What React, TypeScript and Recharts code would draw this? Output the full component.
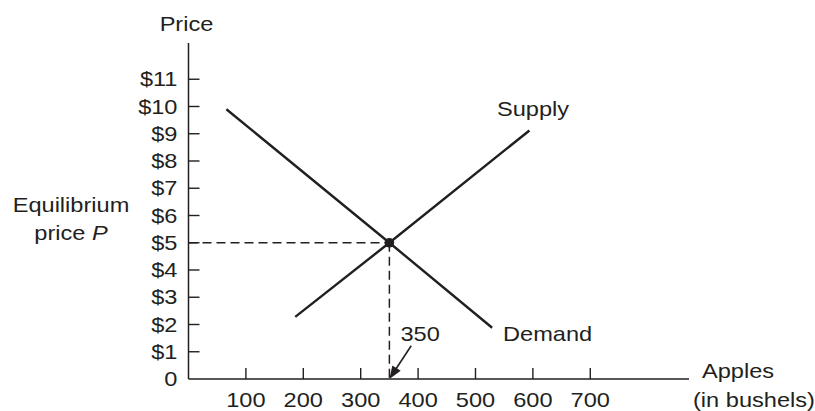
import React from "react";
import { ComposedChart, Line, XAxis, YAxis, ReferenceLine, ReferenceDot } from "recharts";

// axis ticks
const priceTicks = [0, 1, 2, 3, 4, 5, 6, 7, 8, 9, 10, 11];
const priceLabels = ["0", "$1", "$2", "$3", "$4", "$5", "$6", "$7", "$8", "$9", "$10", "$11"];
const quantityTicks = [100, 200, 300, 400, 500, 600, 700];

// curves (bushels, $)
const demandQty = [66, 350, 529];
const demandPrice = [9.9, 5, 1.88];
const supplyQty = [186, 350, 594];
const supplyPrice = [2.28, 5, 9.12];

const eqQty = 350;
const eqPrice = 5;
// arrow pointing at 350 on the axis
const arrowFrom = { x: 388, y: 1.22 };
const arrowTo = { x: 350, y: 0 };

const demand = demandQty.map((q, i) => ({ x: q, y: demandPrice[i] }));
const supply = supplyQty.map((q, i) => ({ x: q, y: supplyPrice[i] }));

const INK = "#231f20";
const FONT = "'Liberation Sans', Arial, Helvetica, sans-serif";
const AXIS_X = 188.5;
const AXIS_Y = 379;
const TICK = 11;

function SText({ x, y, anchor = "start", dy, children }: any) {
  return (
    <text
      transform={`translate(${x} ${y}) scale(1.18 1)`}
      textAnchor={anchor}
      dy={dy}
      fontFamily={FONT}
      fontSize={20}
      fill={INK}
    >
      {children}
    </text>
  );
}

function YTick({ y, payload }: any) {
  const i = priceTicks.indexOf(payload.value);
  return (
    <g>
      {payload.value !== 0 && (
        <line x1={AXIS_X} x2={AXIS_X + TICK} y1={y} y2={y} stroke={INK} strokeWidth={1.4} />
      )}
      <SText x={177.5} y={y} anchor="end" dy="0.36em">
        {priceLabels[i]}
      </SText>
    </g>
  );
}

function XTick({ x, payload }: any) {
  return (
    <g>
      <line x1={x} x2={x} y1={AXIS_Y} y2={AXIS_Y - TICK} stroke={INK} strokeWidth={1.4} />
      <SText x={x} y={407} anchor="middle">
        {payload.value}
      </SText>
    </g>
  );
}

function Arrow({ x1, y1, x2, y2 }: any) {
  const dx = x2 - x1;
  const dy = y2 - y1;
  const len = Math.sqrt(dx * dx + dy * dy);
  const ux = dx / len;
  const uy = dy / len;
  const head = 13;
  const half = 5;
  const bx = x2 - ux * head;
  const by = y2 - uy * head;
  return (
    <g>
      <line x1={x1} y1={y1} x2={bx + ux * 2} y2={by + uy * 2} stroke={INK} strokeWidth={1.6} />
      <polygon
        points={`${x2},${y2} ${bx - uy * half},${by + ux * half} ${bx + uy * half},${by - ux * half}`}
        fill={INK}
      />
    </g>
  );
}

export default function App() {
  return (
    <div style={{ position: "absolute", left: 0, top: 0, width: 815, height: 411, background: "#fff" }}>
      <ComposedChart width={815} height={411} margin={{ top: 43, right: 126, bottom: 0, left: 0 }}>
        <XAxis
          type="number"
          dataKey="x"
          domain={[0, 872]}
          ticks={quantityTicks}
          interval={0}
          height={32}
          tickLine={false}
          axisLine={{ stroke: INK, strokeWidth: 1.5 }}
          tick={(p: any) => <XTick {...p} />}
          allowDataOverflow
        />
        <YAxis
          type="number"
          domain={[0, 12.33]}
          ticks={priceTicks}
          interval={0}
          width={AXIS_X}
          tickLine={false}
          axisLine={{ stroke: INK, strokeWidth: 1.5 }}
          tick={(p: any) => <YTick {...p} />}
          allowDataOverflow
        />
        <ReferenceLine
          segment={[{ x: 0, y: eqPrice }, { x: eqQty, y: eqPrice }]}
          stroke={INK}
          strokeWidth={1.5}
          strokeDasharray="9 5"
        />
        <ReferenceLine
          segment={[{ x: eqQty, y: eqPrice }, { x: eqQty, y: 0 }]}
          stroke={INK}
          strokeWidth={1.5}
          strokeDasharray="9 5"
        />
        <ReferenceLine segment={[arrowFrom, arrowTo]} shape={(p: any) => <Arrow {...p} />} />
        <Line
          data={demand}
          dataKey="y"
          type="linear"
          stroke={INK}
          strokeWidth={2.4}
          dot={false}
          isAnimationActive={false}
        />
        <Line
          data={supply}
          dataKey="y"
          type="linear"
          stroke={INK}
          strokeWidth={2.4}
          dot={false}
          isAnimationActive={false}
        />
        <ReferenceDot x={eqQty} y={eqPrice} r={4.8} fill={INK} stroke="none" />
      </ComposedChart>
      <svg
        width={815}
        height={411}
        style={{ position: "absolute", left: 0, top: 0, pointerEvents: "none" }}
      >
        <SText x={186.5} y={30.5} anchor="middle">Price</SText>
        <SText x={71} y={211.5} anchor="middle">Equilibrium</SText>
        <SText x={71} y={240} anchor="middle">
          price <tspan fontStyle="italic">P</tspan>
        </SText>
        <SText x={497} y={116}>Supply</SText>
        <SText x={503} y={341}>Demand</SText>
        <SText x={400.5} y={340.5}>350</SText>
        <SText x={702} y={377.5}>Apples</SText>
        <SText x={693} y={406.5}>(in bushels)</SText>
      </svg>
    </div>
  );
}
